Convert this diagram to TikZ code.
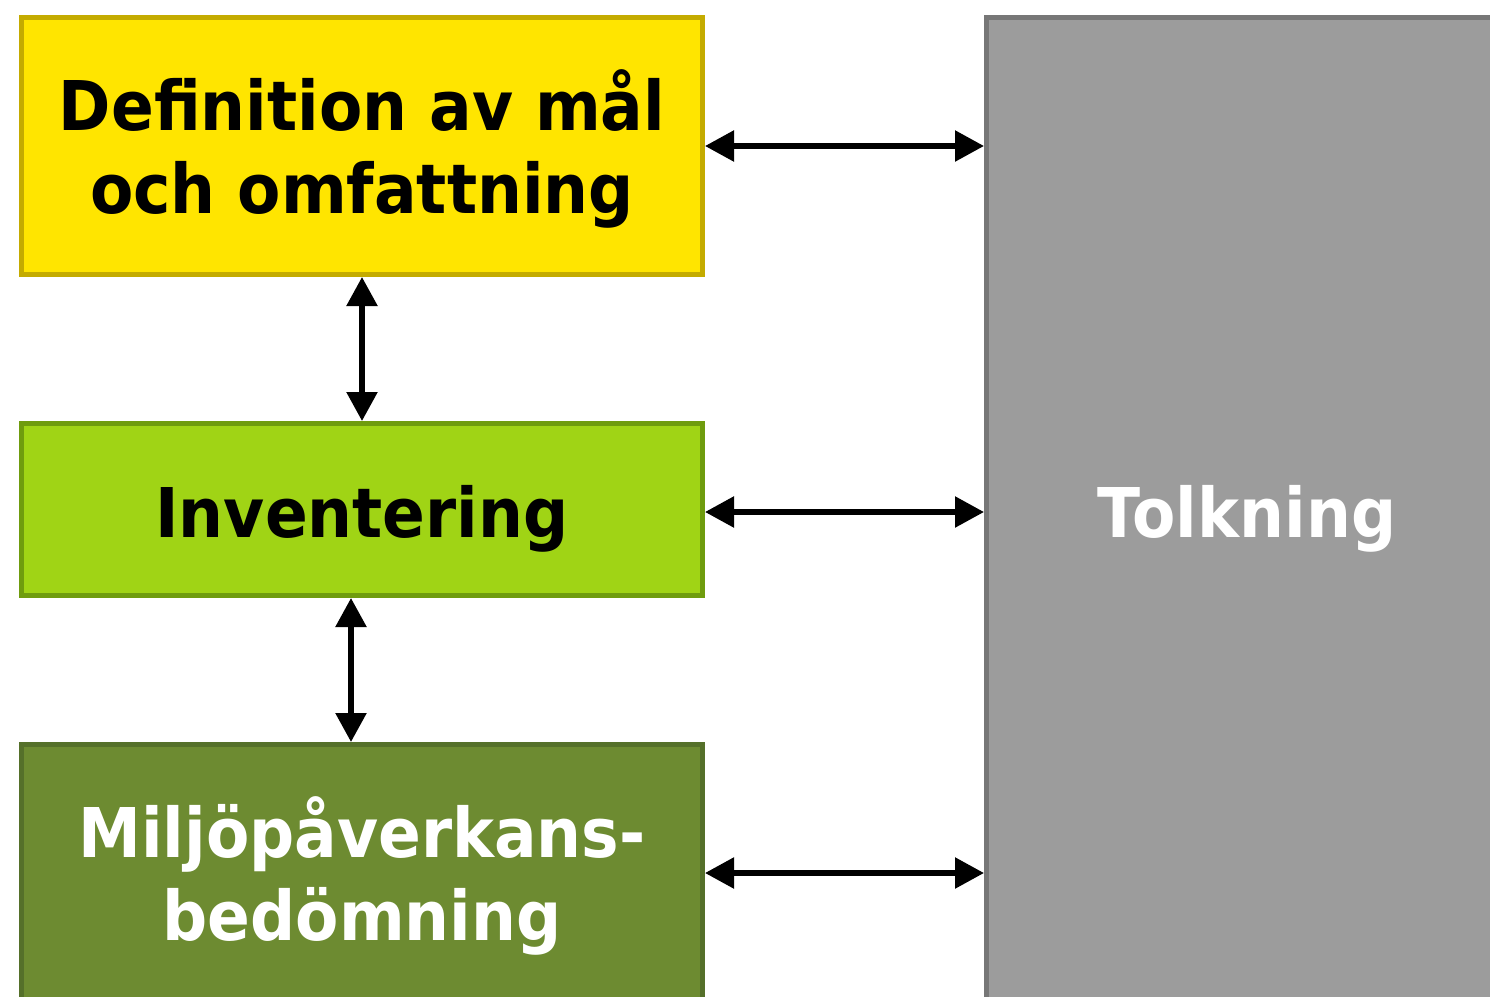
\documentclass[tikz,border=0pt]{standalone}
\usepackage{fontspec}
\setmainfont[FakeStretch=0.92,BoldFeatures={FakeStretch=0.92}]{DejaVu Sans}
\usetikzlibrary{arrows.meta}
\definecolor{stageYellow}{HTML}{FFE500}
\definecolor{stageYellowEdge}{HTML}{C4AB00}
\definecolor{stageLime}{HTML}{A0D415}
\definecolor{stageLimeEdge}{HTML}{6F9C0E}
\definecolor{stageOlive}{HTML}{6D8B31}
\definecolor{stageOliveEdge}{HTML}{55702A}
\definecolor{stageGrey}{HTML}{9C9C9C}
\definecolor{stageGreyEdge}{HTML}{777777}
\begin{document}
\begin{tikzpicture}[x=1pt,y=-1pt,
  stagebox/.style={rectangle,draw,line width=5pt,inner sep=0pt},
  stagetext/.style={inner sep=0pt,align=center,anchor=base,
    font=\fontsize{68.6}{83}\selectfont\bfseries},
  link/.style={line width=5.5pt,{Triangle[length=29pt,width=30pt]}-{Triangle[length=29pt,width=30pt]}}]
\useasboundingbox (0,0) rectangle (1490,996);
% stage boxes
\node[stagebox,fill=stageYellow,draw=stageYellowEdge,minimum width=681pt,minimum height=257pt] (goal) at (362,146) {};
\node[stagebox,fill=stageLime,draw=stageLimeEdge,minimum width=681pt,minimum height=172pt] (inv) at (362,509.5) {};
\node[stagebox,fill=stageOlive,draw=stageOliveEdge,minimum width=681pt,minimum height=293pt] (lca) at (362,891) {};
\node[stagebox,fill=stageGrey,draw=stageGreyEdge,minimum width=541pt,minimum height=1020pt] (interp) at (1257,527.5) {};
% labels (multi-line nodes sit on the baseline of their last line)
\node[stagetext] (goaltext) at (362,213) {Definition av mål\\och omfattning};
\node[stagetext] (invtext) at (362,537) {Inventering};
\node[stagetext,text=white] (lcatext) at (362,940) {Miljöpåverkans-\\bedömning};
\node[stagetext,text=white] (interptext) at (1247,537) {Tolkning};
% connectors
\draw[link] (goal.south) -- (goal.south |- inv.north);
\draw[link] ([xshift=-11pt]inv.south) -- ([xshift=-11pt]inv.south |- lca.north);
\draw[link] (goal.east) -- (goal.east -| interp.west);
\draw[link] ([yshift=-2.5pt]inv.east) -- ([yshift=-2.5pt]inv.east -| interp.west);
\draw[link] ([yshift=-131pt]lca.north east) -- ([yshift=-131pt]lca.north east -| interp.west);
\end{tikzpicture}
\end{document}
